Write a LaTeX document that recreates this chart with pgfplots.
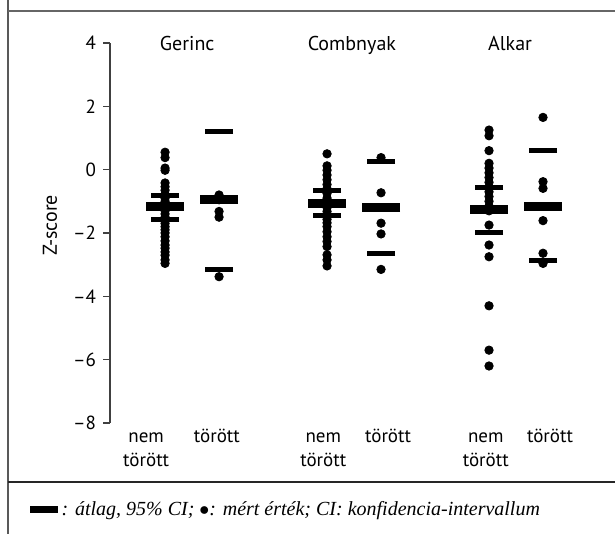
\documentclass[border=0pt]{standalone}
\usepackage{fontspec}
\setmainfont{PT Sans}
\newfontfamily\serifit{Liberation Serif}
\usepackage{pgfplots}
\pgfplotsset{compat=1.18}
\begin{document}
\begin{tikzpicture}
\useasboundingbox (-55pt,-55.5pt) rectangle (252.5pt,211.5pt);
\begin{axis}[
  at={(0,0)}, anchor=south west,
  scale only axis, width=243.5pt, height=190pt,
  xmin=-1.02, xmax=8.0, ymin=-8, ymax=4,
  clip=false,
  axis x line=none,
  axis y line*=left,
  y axis line style={draw=black!75, line width=0.6pt},
  ytick={-8,-6,-4,-2,0,2,4},
  yticklabels={\textendash8,\textendash6,\textendash4,\textendash2,0,2,4},
  tick align=outside,
  major tick length=3.5pt,
  tick style={draw=black!75, line width=0.6pt},
  yticklabel style={font=\fontsize{9.5}{11}\selectfont, xshift=0pt},
  /pgf/number format/assume math mode=true,
]
% Gerinc nem torott
\addplot[only marks, mark=*, mark size=2.1pt, black] coordinates {
(0,0.55)(0,0.38)(0,0.05)(0,-0.02)(0,-0.42)(0,-0.54)(0,-0.65)(0,-0.78)(0,-0.9)(0,-1.0)
(0,-1.1)(0,-1.2)(0,-1.3)(0,-1.4)(0,-1.5)(0,-1.6)(0,-1.7)(0,-1.8)(0,-1.9)(0,-2.0)
(0,-2.12)(0,-2.25)(0,-2.38)(0,-2.48)(0,-2.6)(0,-2.7)(0,-2.85)(0,-2.96)};
% Gerinc torott
\addplot[only marks, mark=*, mark size=2.1pt, black] coordinates {
(1,-0.8)(1,-0.95)(1,-1.32)(1,-1.5)(1,-3.38)};
% Combnyak nem torott
\addplot[only marks, mark=*, mark size=2.1pt, black] coordinates {
(3,0.5)(3,0.12)(3,-0.02)(3,-0.17)(3,-0.32)(3,-0.47)(3,-0.6)(3,-0.75)(3,-0.9)(3,-1.0)
(3,-1.1)(3,-1.2)(3,-1.32)(3,-1.45)(3,-1.57)(3,-1.68)(3,-1.8)(3,-1.96)(3,-2.12)(3,-2.27)
(3,-2.43)(3,-2.69)(3,-2.85)(3,-3.04)};
% Combnyak torott
\addplot[only marks, mark=*, mark size=2.1pt, black] coordinates {
(4,0.38)(4,-0.73)(4,-1.69)(4,-2.03)(4,-3.15)};
% Alkar nem torott
\addplot[only marks, mark=*, mark size=2.1pt, black] coordinates {
(6,1.25)(6,1.07)(6,0.6)(6,0.2)(6,0.05)(6,-0.1)(6,-0.25)(6,-0.4)(6,-0.55)(6,-0.7)
(6,-0.85)(6,-1.0)(6,-1.15)(6,-1.3)(6,-1.75)(6,-2.38)(6,-2.75)(6,-4.3)(6,-5.7)(6,-6.2)};
% Alkar torott
\addplot[only marks, mark=*, mark size=2.1pt, black] coordinates {
(7,1.65)(7,-0.38)(7,-0.59)(7,-1.61)(7,-2.64)(7,-2.96)};
% means
\addplot[only marks, mark=-, mark size=9.5pt, mark options={line width=4.5pt}, black] coordinates {
(0,-1.17)(1,-0.94)(3,-1.08)(4,-1.2)(6,-1.27)(7,-1.17)};
% 95% CI
\addplot[only marks, mark=-, mark size=7pt, mark options={line width=2.5pt}, black] coordinates {
(0,-0.83)(0,-1.57)(1,1.2)(1,-3.14)(3,-0.67)(3,-1.46)(4,0.26)(4,-2.64)(6,-0.57)(6,-1.98)(7,0.62)(7,-2.88)};
% group titles
\node[anchor=base, font=\fontsize{10}{12}\selectfont] at (axis cs:0.41,3.75) {Gerinc};
\node[anchor=base, font=\fontsize{10}{12}\selectfont] at (axis cs:3.46,3.75) {Combnyak};
\node[anchor=base, font=\fontsize{10}{12}\selectfont] at (axis cs:6.39,3.75) {Alkar};
% x labels
\node[anchor=base, font=\fontsize{9.5}{11}\selectfont, yshift=-10pt] at (axis cs:-0.35,-8) {nem};
\node[anchor=base, font=\fontsize{9.5}{11}\selectfont, yshift=-22pt] at (axis cs:-0.35,-8) {törött};
\node[anchor=base, font=\fontsize{9.5}{11}\selectfont, yshift=-10pt] at (axis cs:2.93,-8) {nem};
\node[anchor=base, font=\fontsize{9.5}{11}\selectfont, yshift=-22pt] at (axis cs:2.93,-8) {törött};
\node[anchor=base, font=\fontsize{9.5}{11}\selectfont, yshift=-10pt] at (axis cs:5.94,-8) {nem};
\node[anchor=base, font=\fontsize{9.5}{11}\selectfont, yshift=-22pt] at (axis cs:5.94,-8) {törött};
\node[anchor=base, font=\fontsize{9.5}{11}\selectfont, yshift=-10pt] at (axis cs:0.96,-8) {törött};
\node[anchor=base, font=\fontsize{9.5}{11}\selectfont, yshift=-10pt] at (axis cs:4.13,-8) {törött};
\node[anchor=base, font=\fontsize{9.5}{11}\selectfont, yshift=-10pt] at (axis cs:7.13,-8) {törött};
\end{axis}
\node[rotate=90, font=\fontsize{10}{12}\selectfont] at (-30pt,98.75pt) {Z-score};
% frame
\draw[black!65, line width=0.75pt] (-51pt,-55.5pt) -- (-51pt,211.5pt);
\draw[black!60, line width=0.75pt] (-51pt,206pt) -- (252.5pt,206pt);
\draw[black!85, line width=0.75pt] (-51pt,-29.5pt) -- (252.5pt,-29.5pt);
% footnote
\node[anchor=base west, inner sep=0pt, font=\serifit\itshape\fontsize{10}{12}\selectfont] at (-40pt,-46.5pt)
  {\rule[1.5pt]{14pt}{3.5pt}\,: átlag, 95\% CI; \raisebox{0.3pt}{$\bullet$}: mért érték; CI: konfidencia-intervallum};
\end{tikzpicture}
\end{document}
